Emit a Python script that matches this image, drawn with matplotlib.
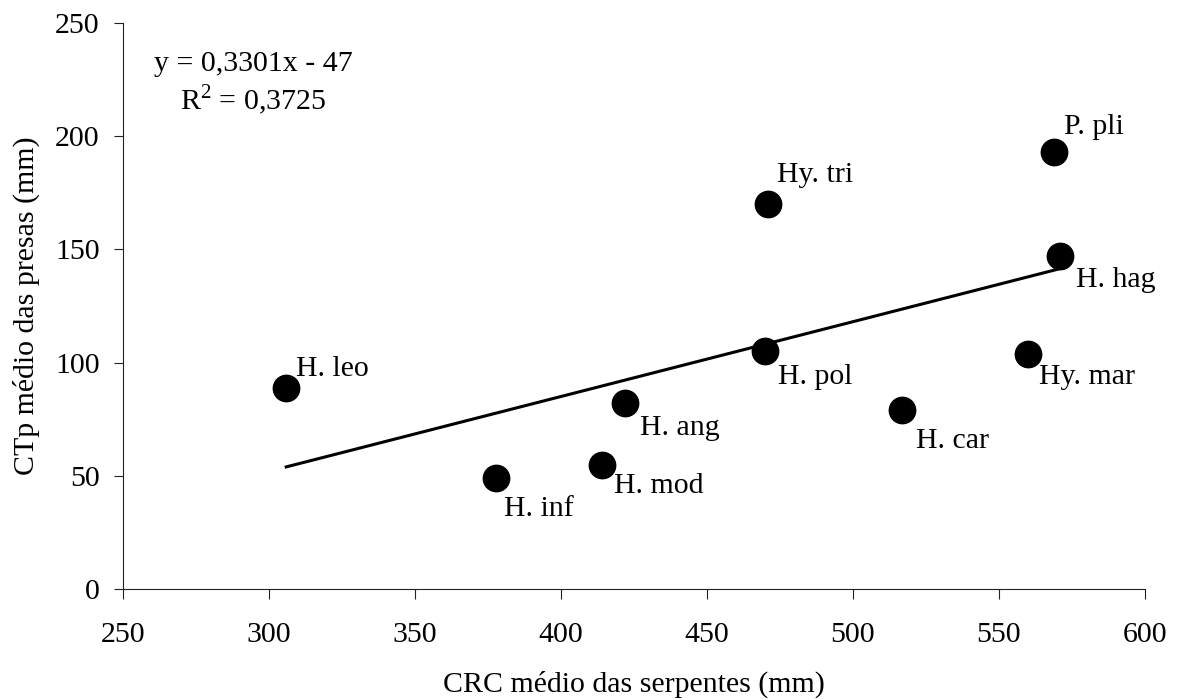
import numpy as np
import matplotlib
matplotlib.use('Agg')
import matplotlib.pyplot as plt

# Mean snake body length vs mean prey length per species
species = ['H. leo', 'H. inf', 'H. mod', 'H. ang', 'Hy. tri',
           'H. pol', 'H. car', 'Hy. mar', 'P. pli', 'H. hag']
crc = [306, 378, 414, 422, 471, 470, 517, 560, 569, 571]
ctp = [89, 49, 55, 82, 170, 105, 79, 104, 193, 147]

# Fitted linear trend
slope = 0.3301
intercept = -47
r2 = 0.3725

x_ticks = [250, 300, 350, 400, 450, 500, 550, 600]
y_ticks = [0, 50, 100, 150, 200, 250]

plt.rcParams['font.family'] = ['Liberation Serif', 'DejaVu Serif']
plt.rcParams['mathtext.fontset'] = 'custom'
plt.rcParams['mathtext.rm'] = 'Liberation Serif'
FS = 21.5

fig = plt.figure(figsize=(11.77, 7), dpi=100)
ax = fig.add_axes([0.1042, 0.1581, 0.8684, 0.8095])

ax.plot(crc, ctp, 'o', color='black', markersize=19, zorder=3)

# trend line over the observed x range
xs = np.array([min(crc), max(crc)])
ax.plot(xs, slope * xs + intercept, color='black', lw=2.2, zorder=2)

# label placement (pixels from point centre)
offsets = {
    'H. leo': (10, 12), 'H. inf': (8, -38), 'H. mod': (12, -28),
    'H. ang': (15, -32), 'Hy. tri': (9, 22), 'H. pol': (13, -33),
    'H. car': (14, -38), 'Hy. mar': (11, -30), 'P. pli': (10, 18),
    'H. hag': (16, -31),
}
for name, x, y in zip(species, crc, ctp):
    ax.annotate(name, (x, y), xytext=offsets[name], textcoords='offset pixels',
                ha='left', va='baseline', fontsize=FS)

eq = 'y = {:.4f}x - {}'.format(slope, abs(intercept)).replace('.', ',')
ax.text(0.1275, 0.9148, eq, transform=ax.transAxes, ha='center',
        va='baseline', fontsize=FS)
ax.text(0.1275, 0.846, r'R$^2$ = ' + '{:.4f}'.format(r2).replace('.', ','),
        transform=ax.transAxes, ha='center', va='baseline', fontsize=FS)

ax.set_xlim(250, 600)
ax.set_ylim(0, 250)
ax.set_xticks(x_ticks)
ax.set_yticks(y_ticks)
ax.spines['top'].set_visible(False)
ax.spines['right'].set_visible(False)
for s in ['left', 'bottom']:
    ax.spines[s].set_linewidth(0.8)
    ax.spines[s].set_color('#222222')
ax.tick_params(axis='x', direction='out', length=7, width=0.8, pad=16.5,
               labelsize=FS, color='#222222')
ax.tick_params(axis='y', direction='out', length=6.5, width=0.8, pad=10,
               labelsize=FS, color='#222222')

ax.set_xlabel('CRC médio das serpentes (mm)', fontsize=FS, labelpad=16)
ax.set_ylabel('CTp médio das presas (mm)', fontsize=FS, labelpad=11)

fig.savefig('out.png', dpi=100)
